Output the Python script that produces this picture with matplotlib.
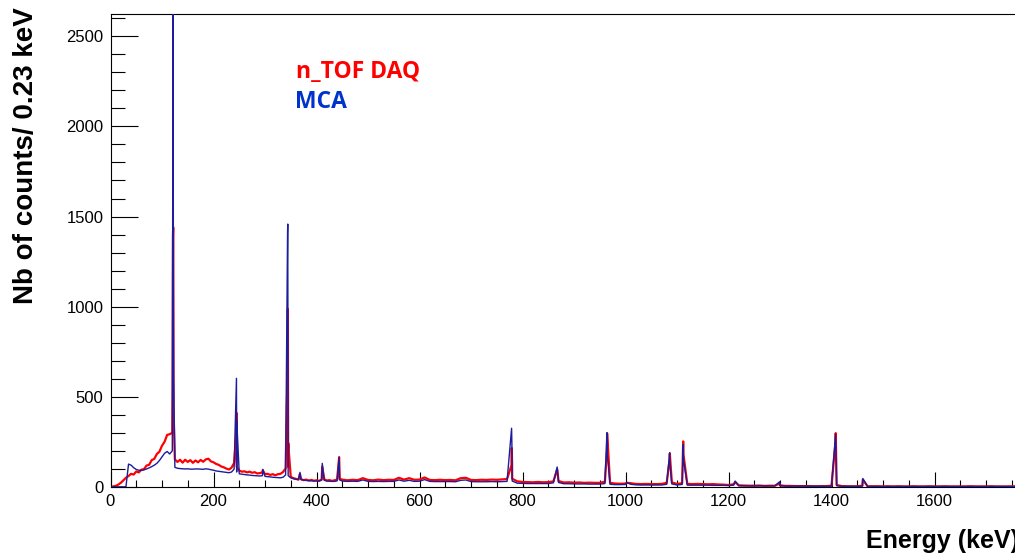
import numpy as np
import matplotlib
matplotlib.use("Agg")
import matplotlib.pyplot as plt
from matplotlib.ticker import MultipleLocator

# ---------------- data ----------------
# continuum sampled every 5 keV below 450 keV, every 10 keV above
energy_low = np.arange(0, 450, 5)
energy_high = np.arange(450, 1770, 10)

daq_low = [0, 2, 5, 12, 22, 36, 50, 60, 72, 68,
           85, 80, 95, 98, 118, 122, 148, 155, 182, 195,
           228, 250, 288, 292, 300, 152, 138, 150, 134, 150,
           138, 148, 133, 146, 136, 149, 139, 152, 156, 141,
           136, 127, 122, 113, 108, 101, 96, 106, 132, 112,
           90, 84, 86, 80, 84, 78, 81, 74, 76, 80,
           70, 72, 66, 70, 64, 70, 72, 82, 102, 110,
           55, 48, 44, 40, 42, 37, 40, 35, 38, 34,
           36, 33, 40, 42, 35, 37, 33, 36, 40, 44]
mca_low = [0, 0, 0, 0, 0, 0, 0, 126, 120, 106,
           96, 92, 91, 94, 99, 105, 112, 120, 130, 146,
           166, 186, 196, 182, 200, 108, 103, 101, 100, 99,
           100, 98, 98, 99, 99, 98, 97, 100, 98, 95,
           92, 88, 86, 84, 82, 80, 78, 82, 98, 82,
           72, 70, 68, 66, 65, 63, 62, 61, 60, 62,
           58, 56, 55, 53, 52, 51, 50, 53, 66, 62,
           50, 45, 42, 40, 40, 38, 35, 34, 33, 32,
           32, 32, 38, 36, 32, 31, 30, 30, 33, 38]

daq_high = [40, 36, 39, 37, 48, 38, 36, 40, 37, 39,
            38, 50, 40, 48, 39, 40, 52, 38, 37, 39,
            37, 38, 36, 48, 50, 38, 37, 39, 38, 40,
            39, 41, 43, 45, 30, 27, 26, 25, 27, 25,
            26, 30, 32, 24, 25, 23, 24, 22, 23, 22,
            22, 28, 22, 18, 17, 18, 20, 16, 15, 16,
            15, 15, 16, 22, 24, 16, 20, 16, 15, 16,
            15, 14, 15, 13, 12, 10, 14, 8, 7, 6,
            6, 7, 5, 6, 6, 8, 5, 5, 4, 4,
            4, 4, 3, 4, 4, 6, 10, 4, 3, 3,
            3, 6, 3, 3, 3, 2, 3, 2, 3, 2,
            2, 3, 2, 2, 3, 2, 2, 3, 2, 2,
            2, 2, 3, 2, 2, 2, 3, 2, 2, 2,
            2, 2]
mca_high = [32, 30, 31, 30, 38, 30, 29, 30, 29, 30,
            30, 38, 31, 36, 30, 31, 40, 30, 29, 29,
            29, 29, 28, 36, 38, 29, 28, 28, 28, 29,
            28, 29, 30, 32, 20, 19, 18, 18, 18, 18,
            18, 22, 24, 17, 17, 16, 16, 16, 15, 15,
            15, 18, 14, 12, 12, 13, 14, 11, 10, 10,
            10, 10, 10, 14, 16, 10, 13, 9, 9, 9,
            9, 9, 8, 8, 8, 7, 9, 6, 5, 5,
            5, 5, 5, 5, 5, 6, 4, 4, 4, 4,
            4, 3, 3, 3, 3, 4, 6, 3, 3, 2,
            2, 4, 2, 2, 2, 2, 2, 2, 2, 2,
            2, 2, 2, 2, 2, 2, 2, 2, 2, 2,
            2, 2, 2, 2, 2, 2, 2, 2, 2, 2,
            2, 2]

# photopeak bins (energy keV, counts)
daq_peak_e = [120.6, 121.3, 121.8, 122.5, 244.3, 244.8, 295.5, 343.9, 344.4, 345.0,
              367.8, 411.1, 444.0, 778.7, 779.2, 779.8, 867.4, 963.9, 964.3, 1002.3,
              1085.6, 1086.0, 1112.0, 1112.5, 1212.9, 1299.1, 1407.8, 1408.2, 1460.7]
daq_peak_c = [530, 1397, 1440, 420, 300, 410, 92, 659, 987, 243,
              72, 112, 165, 120, 215, 130, 98, 200, 297, 22,
              150, 185, 252, 180, 26, 18, 250, 298, 40]
mca_peak_e = [121.2, 121.6, 122.1, 122.6, 244.6, 245.1, 295.8, 343.8, 344.2, 344.7,
              367.9, 411.2, 443.9, 778.8, 779.4, 867.3, 964.1, 964.6, 1002.5,
              1085.9, 1086.4, 1112.2, 1112.7, 1212.9, 1299.2, 1408.1, 1408.6, 1460.8]
mca_peak_c = [2485, 2900, 1120, 610, 602, 371, 97, 1407, 1458, 491,
              80, 130, 162, 325, 240, 110, 300, 180, 25,
              190, 120, 235, 150, 32, 28, 292, 200, 46]

legend_labels = ["n_TOF DAQ", "MCA"]
x_label = "Energy (keV)"
y_label = "Nb of counts/ 0.23 keV"

# ---------------- figure ----------------
W, H = 1015, 556
fig = plt.figure(figsize=(W / 100, H / 100), dpi=100)

x0, x1 = 110.5, 110.5 + 1766.4 * 0.515
y_top, y_bot = 14.0, 486.8
ax = fig.add_axes([x0 / W, 1 - y_bot / H, (x1 - x0) / W, (y_bot - y_top) / H])

def series(e_cont_a, c_cont_a, e_cont_b, c_cont_b, e_pk, c_pk):
    e = np.concatenate([e_cont_a, e_cont_b, e_pk]).astype(float)
    c = np.concatenate([c_cont_a, c_cont_b, c_pk]).astype(float)
    order = np.argsort(e, kind="stable")
    return e[order], c[order]

e_r, c_r = series(energy_low, daq_low, energy_high, daq_high, daq_peak_e, daq_peak_c)
e_b, c_b = series(energy_low, mca_low, energy_high, mca_high, mca_peak_e, mca_peak_c)

red = "#ff0000"
blue = "#1c1c9c"
ax.plot(e_r, c_r, color=red, lw=1.6, zorder=2)
ax.plot(e_b, c_b, color=blue, lw=1.0, zorder=3)

ax.set_xlim(0, 1766.4)
ax.set_ylim(0, 2624)

ax.xaxis.set_major_locator(MultipleLocator(200))
ax.xaxis.set_minor_locator(MultipleLocator(50))
ax.yaxis.set_major_locator(MultipleLocator(500))
ax.yaxis.set_minor_locator(MultipleLocator(100))

ax.tick_params(axis="y", which="major", direction="in", length=19.4, width=0.8, pad=5)
ax.tick_params(axis="y", which="minor", direction="in", length=9.9, width=0.8)
ax.tick_params(axis="x", which="major", direction="in", length=10.8, width=0.8, pad=5)
ax.tick_params(axis="x", which="minor", direction="in", length=5.0, width=0.8)
for lab in ax.get_xticklabels() + ax.get_yticklabels():
    lab.set_fontfamily("Liberation Sans")
    lab.set_fontsize(12)

for s in ax.spines.values():
    s.set_linewidth(0.8)
    s.set_color("black")

# axis titles (the x title runs past the right edge, as in the original)
fig.text(1019 / W, 1 - 548 / H, x_label, ha="right", va="baseline",
         fontfamily="Liberation Sans", fontweight="bold", fontsize=18)
fig.text(26 / W, 1 - 156 / H, y_label, ha="center", va="center", rotation=90,
         fontfamily="Liberation Sans", fontweight="bold", fontsize=20)

# legend-like labels
fig.text(295.5 / W, 1 - 77.7 / H, legend_labels[0], ha="left", va="baseline",
         color="#ff0000", fontfamily="Open Sans", fontweight="bold", fontsize=16.5)
fig.text(295.0 / W, 1 - 108.3 / H, legend_labels[1], ha="left", va="baseline",
         color="#0033cc", fontfamily="Open Sans", fontweight="bold", fontsize=16.5)

fig.savefig("out.png", dpi=100)
